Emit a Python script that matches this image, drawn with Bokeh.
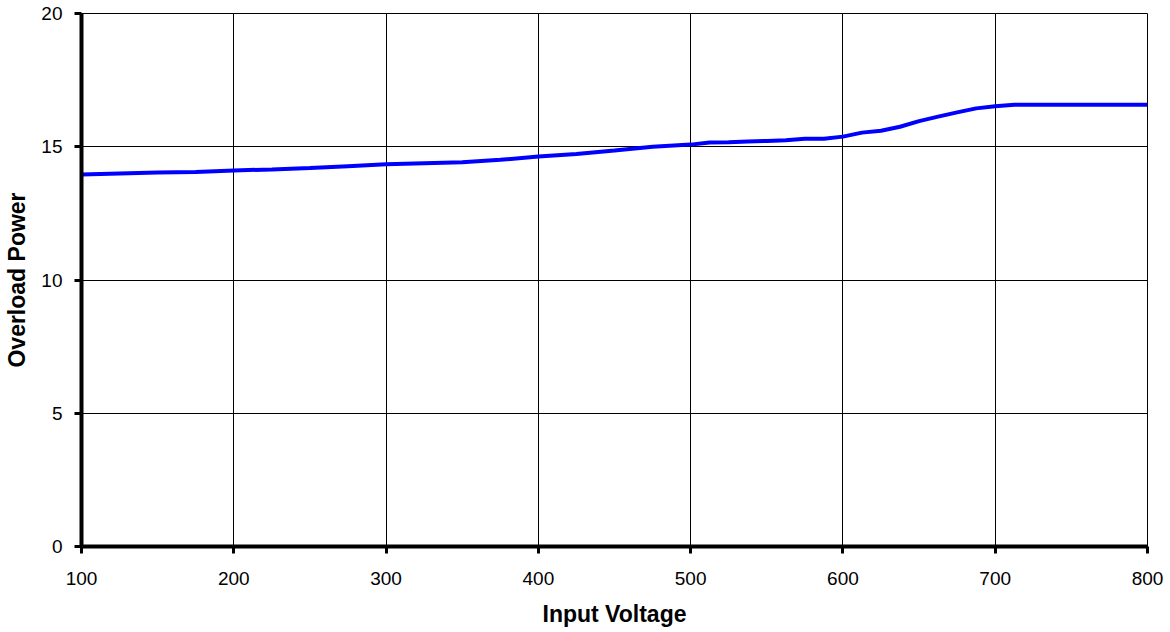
from bokeh.plotting import figure
from bokeh.models import FixedTicker, Range1d
from bokeh.embed import file_html
from bokeh.resources import INLINE

# Data
input_voltage = [100, 125, 150, 175, 200, 225, 250, 275, 300, 325, 350, 375, 400, 425,
                 450, 475, 500, 512.5, 525, 537.5, 550, 562.5, 575, 587.5, 600, 612.5,
                 625, 637.5, 650, 662.5, 675, 687.5, 700, 712.5, 800]
overload_power = [13.96, 14.0, 14.03, 14.05, 14.11, 14.15, 14.2, 14.27, 14.34, 14.38,
                  14.42, 14.51, 14.63, 14.73, 14.86, 15.0, 15.08, 15.16, 15.17, 15.2,
                  15.22, 15.24, 15.3, 15.3, 15.38, 15.53, 15.6, 15.75, 15.96, 16.13,
                  16.29, 16.44, 16.52, 16.58, 16.58]
x_ticks = [100, 200, 300, 400, 500, 600, 700, 800]
y_ticks = [0, 5, 10, 15, 20]

FONT = "Liberation Sans"

p = figure(width=1170, height=632, output_backend="svg", toolbar_location=None,
           x_range=Range1d(100, 800), y_range=Range1d(0, 20),
           min_border_left=81, min_border_right=23, min_border_top=13, min_border_bottom=86)

p.background_fill_color = "white"
p.border_fill_color = "white"
p.outline_line_color = "black"
p.outline_line_width = 1

p.line(input_voltage, overload_power, line_color="#0000FF", line_width=4)

for ax in (p.xaxis[0], p.yaxis[0]):
    ax.axis_line_color = "black"
    ax.axis_line_width = 4
    ax.major_tick_line_color = "black"
    ax.major_tick_line_width = 3
    ax.major_tick_in = 0
    ax.major_tick_out = 7
    ax.minor_tick_line_color = None
    ax.major_label_text_font = FONT
    ax.major_label_text_font_size = "19px"
    ax.major_label_text_color = "black"
    ax.axis_label_text_font = FONT
    ax.axis_label_text_font_size = "23px"
    ax.axis_label_text_font_style = "bold"
    ax.axis_label_text_color = "black"

p.xaxis.ticker = FixedTicker(ticks=x_ticks)
p.yaxis.ticker = FixedTicker(ticks=y_ticks)
p.xaxis.axis_label = "Input Voltage"
p.yaxis.axis_label = "Overload Power"
p.xaxis.major_label_standoff = 18
p.yaxis.major_label_standoff = 12
p.xaxis.axis_label_standoff = 13
p.yaxis.axis_label_standoff = 8

p.xgrid.ticker = FixedTicker(ticks=x_ticks)
p.ygrid.ticker = FixedTicker(ticks=y_ticks)
p.xgrid.grid_line_color = "black"
p.ygrid.grid_line_color = "black"
p.xgrid.grid_line_width = 1
p.ygrid.grid_line_width = 1

open("out.html", "w").write(file_html(p, INLINE))
